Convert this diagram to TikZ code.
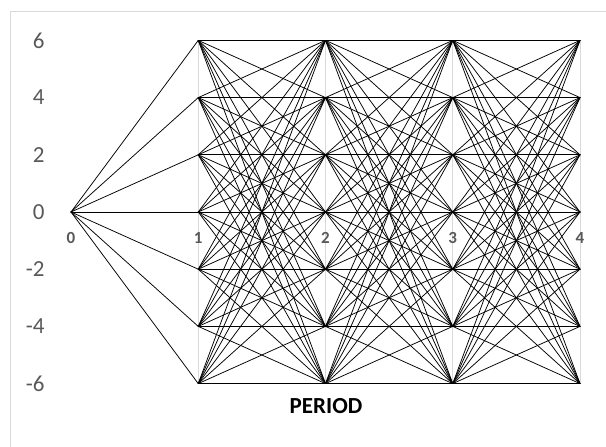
\documentclass[tikz,border=0pt]{standalone}
\usepackage{fontspec}
\setmainfont{Carlito}
\definecolor{axisgray}{RGB}{89,89,89}
\definecolor{gridgray}{RGB}{217,217,217}
\tikzset{
    lab/.style={
        font=\fontsize{23}{27}\selectfont, text=axisgray
    }
}

\begin{document}
\begin{tikzpicture}[x=1pt,y=1pt, line cap=round, line join=round]

% edge + label styles
\tikzset{
  main/.style={draw=black, line width=0.75pt},
  gridln/.style={draw=gridgray, line width=0.8pt},
  plab/.style={font=\bfseries\fontsize{17}{20}\selectfont, text=axisgray},
  tlab/.style={font=\bfseries\fontsize{23}{27}\selectfont},
}

  \useasboundingbox (-71,-235) rectangle (535,212);

  % frame
  \coordinate (FB) at (-61,-235);
  \coordinate (FTL) at (-61,201);
  \coordinate (FTR) at (535,201);
  \draw[gridln] (FB) -- (FTL) -- (FTR);

  % nodes
  \coordinate (n0) at (0,0);
  \foreach \p in {1,...,4}
    \foreach \k in {0,...,6}
      \coordinate (n\p-\k) at ({127.25*\p},{28.6*(6-2*\k)});

  % vertical grid lines
  \foreach \p in {1,...,4}
    \draw[gridln] (n\p-0) -- (n\p-6);

  % edges 0--1
  \foreach \k in {0,...,6}
    \draw[main] (n0) -- (n1-\k);

  % edges between periods (all to all)
  \foreach \p [evaluate=\p as \q using int(\p+1)] in {1,2,3}
    \foreach \i in {0,...,6}
      \foreach \j in {0,...,6}
        \draw[main] (n\p-\i) -- (n\q-\j);

  % axis labels
  \foreach \k in {0,...,6} {
    \pgfmathtruncatemacro{\val}{6-2*\k}
    \node[lab, anchor=east] (y\k) at (-23,{28.6*(6-2*\k)}) {\val};
  }

  % period labels
  \node[plab] (p0) at (0,-26) {0};
  \foreach \p in {1,...,4}
    \node[plab] (p\p) at ({127.25*\p},-26) {\p};

  \node[tlab] (period) at (255,-194) {PERIOD};

\end{tikzpicture}
\end{document}
